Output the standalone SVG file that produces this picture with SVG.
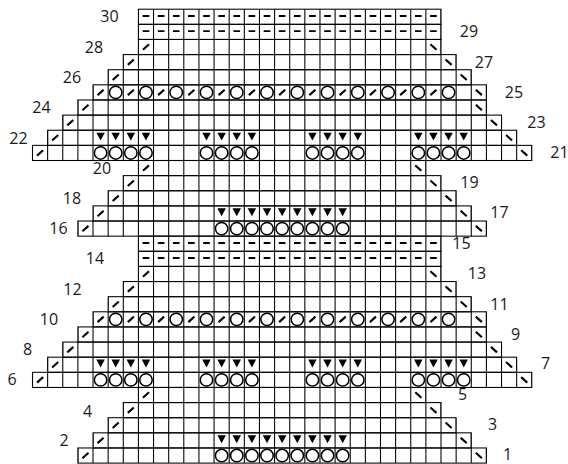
<svg xmlns="http://www.w3.org/2000/svg" xmlns:xlink="http://www.w3.org/1999/xlink" width="568" height="464" viewBox="0 0 568 464">
<style>
.v{stroke:#000;stroke-width:1;stroke-dasharray:0.07 0.93;stroke-dashoffset:0.035;fill:none}
.r{fill:none;stroke:#000;stroke-width:0.07}
.sym{stroke:#000;stroke-width:0.14;fill:none}
.dsh{stroke:#000;stroke-width:0.13;stroke-dasharray:0.44 0.56;fill:none}
.ring{fill:none;stroke:#000;stroke-width:0.1}
.tri{fill:#000}
.lbl{font-family:"Open Sans","Liberation Sans",sans-serif;font-size:16px;fill:#1a1a1a;text-anchor:middle}
</style>
<defs>
<path id="sl" class="sym" d="M0.3 0.68 L0.7 0.32"/>
<path id="bs" class="sym" d="M0.3 0.32 L0.7 0.68"/>
<circle id="yo" class="ring" cx="0.5" cy="0.5" r="0.41"/>
<path id="tr" class="tri" d="M0.22 0.16 H0.78 L0.5 0.68 Z"/>
<g id="half">
<g id="grid">
<line class="v" x1="7" x2="27" y1="0.5" y2="0.5"/>
<line class="v" x1="7" x2="27" y1="1.5" y2="1.5"/>
<line class="v" x1="7" x2="27" y1="2.5" y2="2.5"/>
<line class="v" x1="6" x2="28" y1="3.5" y2="3.5"/>
<line class="v" x1="5" x2="29" y1="4.5" y2="4.5"/>
<line class="v" x1="4" x2="30" y1="5.5" y2="5.5"/>
<line class="v" x1="3" x2="30" y1="6.5" y2="6.5"/>
<line class="v" x1="2" x2="31" y1="7.5" y2="7.5"/>
<line class="v" x1="1" x2="32" y1="8.5" y2="8.5"/>
<line class="v" x1="0" x2="33" y1="9.5" y2="9.5"/>
<line class="v" x1="7" x2="26" y1="10.5" y2="10.5"/>
<line class="v" x1="6" x2="27" y1="11.5" y2="11.5"/>
<line class="v" x1="5" x2="28" y1="12.5" y2="12.5"/>
<line class="v" x1="4" x2="29" y1="13.5" y2="13.5"/>
<line class="v" x1="3" x2="30" y1="14.5" y2="14.5"/>
<rect class="r" x="7" y="0" width="20" height="1"/>
<rect class="r" x="7" y="1" width="20" height="1"/>
<rect class="r" x="7" y="2" width="20" height="1"/>
<rect class="r" x="6" y="3" width="22" height="1"/>
<rect class="r" x="5" y="4" width="24" height="1"/>
<rect class="r" x="4" y="5" width="26" height="1"/>
<rect class="r" x="3" y="6" width="27" height="1"/>
<rect class="r" x="2" y="7" width="29" height="1"/>
<rect class="r" x="1" y="8" width="31" height="1"/>
<rect class="r" x="0" y="9" width="33" height="1"/>
<rect class="r" x="7" y="10" width="19" height="1"/>
<rect class="r" x="6" y="11" width="21" height="1"/>
<rect class="r" x="5" y="12" width="23" height="1"/>
<rect class="r" x="4" y="13" width="25" height="1"/>
<rect class="r" x="3" y="14" width="27" height="1"/>
</g>
<g id="symbols">
<line class="dsh" x1="7.28" x2="26.72" y1="0.45" y2="0.45"/>
<line class="dsh" x1="7.28" x2="26.72" y1="1.45" y2="1.45"/>
<use href="#sl" x="7" y="2"/><use href="#bs" x="26" y="2"/>
<use href="#sl" x="6" y="3"/><use href="#bs" x="27" y="3"/>
<use href="#sl" x="5" y="4"/><use href="#bs" x="28" y="4"/>
<use href="#sl" x="4" y="5"/>
<use href="#yo" x="5" y="5"/><use href="#sl" x="6" y="5"/>
<use href="#yo" x="7" y="5"/><use href="#sl" x="8" y="5"/>
<use href="#yo" x="9" y="5"/><use href="#sl" x="10" y="5"/>
<use href="#yo" x="11" y="5"/><use href="#sl" x="12" y="5"/>
<use href="#yo" x="13" y="5"/><use href="#sl" x="14" y="5"/>
<use href="#yo" x="15" y="5"/><use href="#sl" x="16" y="5"/>
<use href="#yo" x="17" y="5"/><use href="#sl" x="18" y="5"/>
<use href="#yo" x="19" y="5"/><use href="#sl" x="20" y="5"/>
<use href="#yo" x="21" y="5"/><use href="#sl" x="22" y="5"/>
<use href="#yo" x="23" y="5"/><use href="#sl" x="24" y="5"/>
<use href="#yo" x="25" y="5"/><use href="#sl" x="26" y="5"/>
<use href="#yo" x="27" y="5"/>
<use href="#bs" x="29" y="5"/>
<use href="#sl" x="3" y="6"/><use href="#bs" x="29" y="6"/>
<use href="#sl" x="2" y="7"/><use href="#bs" x="30" y="7"/>
<use href="#sl" x="1" y="8"/><use href="#bs" x="31" y="8"/>
<use href="#tr" x="4" y="8"/><use href="#tr" x="5" y="8"/><use href="#tr" x="6" y="8"/><use href="#tr" x="7" y="8"/>
<use href="#tr" x="11" y="8"/><use href="#tr" x="12" y="8"/><use href="#tr" x="13" y="8"/><use href="#tr" x="14" y="8"/>
<use href="#tr" x="18" y="8"/><use href="#tr" x="19" y="8"/><use href="#tr" x="20" y="8"/><use href="#tr" x="21" y="8"/>
<use href="#tr" x="25" y="8"/><use href="#tr" x="26" y="8"/><use href="#tr" x="27" y="8"/><use href="#tr" x="28" y="8"/>
<use href="#sl" x="0" y="9"/><use href="#bs" x="32" y="9"/>
<use href="#yo" x="4" y="9"/><use href="#yo" x="5" y="9"/><use href="#yo" x="6" y="9"/><use href="#yo" x="7" y="9"/>
<use href="#yo" x="11" y="9"/><use href="#yo" x="12" y="9"/><use href="#yo" x="13" y="9"/><use href="#yo" x="14" y="9"/>
<use href="#yo" x="18" y="9"/><use href="#yo" x="19" y="9"/><use href="#yo" x="20" y="9"/><use href="#yo" x="21" y="9"/>
<use href="#yo" x="25" y="9"/><use href="#yo" x="26" y="9"/><use href="#yo" x="27" y="9"/><use href="#yo" x="28" y="9"/>
<use href="#sl" x="7" y="10"/><use href="#bs" x="25" y="10"/>
<use href="#sl" x="6" y="11"/><use href="#bs" x="26" y="11"/>
<use href="#sl" x="5" y="12"/><use href="#bs" x="27" y="12"/>
<use href="#sl" x="4" y="13"/><use href="#bs" x="28" y="13"/>
<use href="#tr" x="12" y="13"/><use href="#tr" x="13" y="13"/><use href="#tr" x="14" y="13"/><use href="#tr" x="15" y="13"/><use href="#tr" x="16" y="13"/><use href="#tr" x="17" y="13"/><use href="#tr" x="18" y="13"/><use href="#tr" x="19" y="13"/><use href="#tr" x="20" y="13"/>
<use href="#sl" x="3" y="14"/><use href="#bs" x="29" y="14"/>
<use href="#yo" x="12" y="14"/><use href="#yo" x="13" y="14"/><use href="#yo" x="14" y="14"/><use href="#yo" x="15" y="14"/><use href="#yo" x="16" y="14"/><use href="#yo" x="17" y="14"/><use href="#yo" x="18" y="14"/><use href="#yo" x="19" y="14"/><use href="#yo" x="20" y="14"/>
</g>
</g>
</defs>
<rect width="568" height="464" fill="#fff"/>
<g id="chart" transform="translate(32.5 9.2) scale(15.13)">
<use id="rows16to30" href="#half"/>
<use id="rows1to15" href="#half" y="15"/>
</g>
<g id="labels" class="lbl">
<text x="109.5" y="21.7">30</text>
<text x="469" y="36.7">29</text>
<text x="94" y="53">28</text>
<text x="484" y="67.7">27</text>
<text x="72" y="83">26</text>
<text x="514" y="98">25</text>
<text x="41.5" y="113">24</text>
<text x="536.5" y="128">23</text>
<text x="18.5" y="144">22</text>
<text x="559.5" y="158">21</text>
<text x="102" y="174">20</text>
<text x="469.5" y="188">19</text>
<text x="72" y="204">18</text>
<text x="499.5" y="218">17</text>
<text x="58.5" y="234">16</text>
<text x="461.5" y="248.7">15</text>
<text x="95" y="263.7">14</text>
<text x="477" y="278.7">13</text>
<text x="72.5" y="295">12</text>
<text x="499.5" y="309.7">11</text>
<text x="49" y="325">10</text>
<text x="515.5" y="340">9</text>
<text x="27.5" y="355">8</text>
<text x="545.5" y="369">7</text>
<text x="12" y="385">6</text>
<text x="462.5" y="400">5</text>
<text x="87.5" y="417">4</text>
<text x="492.5" y="430">3</text>
<text x="64" y="446">2</text>
<text x="507.5" y="460">1</text>
</g>
</svg>
